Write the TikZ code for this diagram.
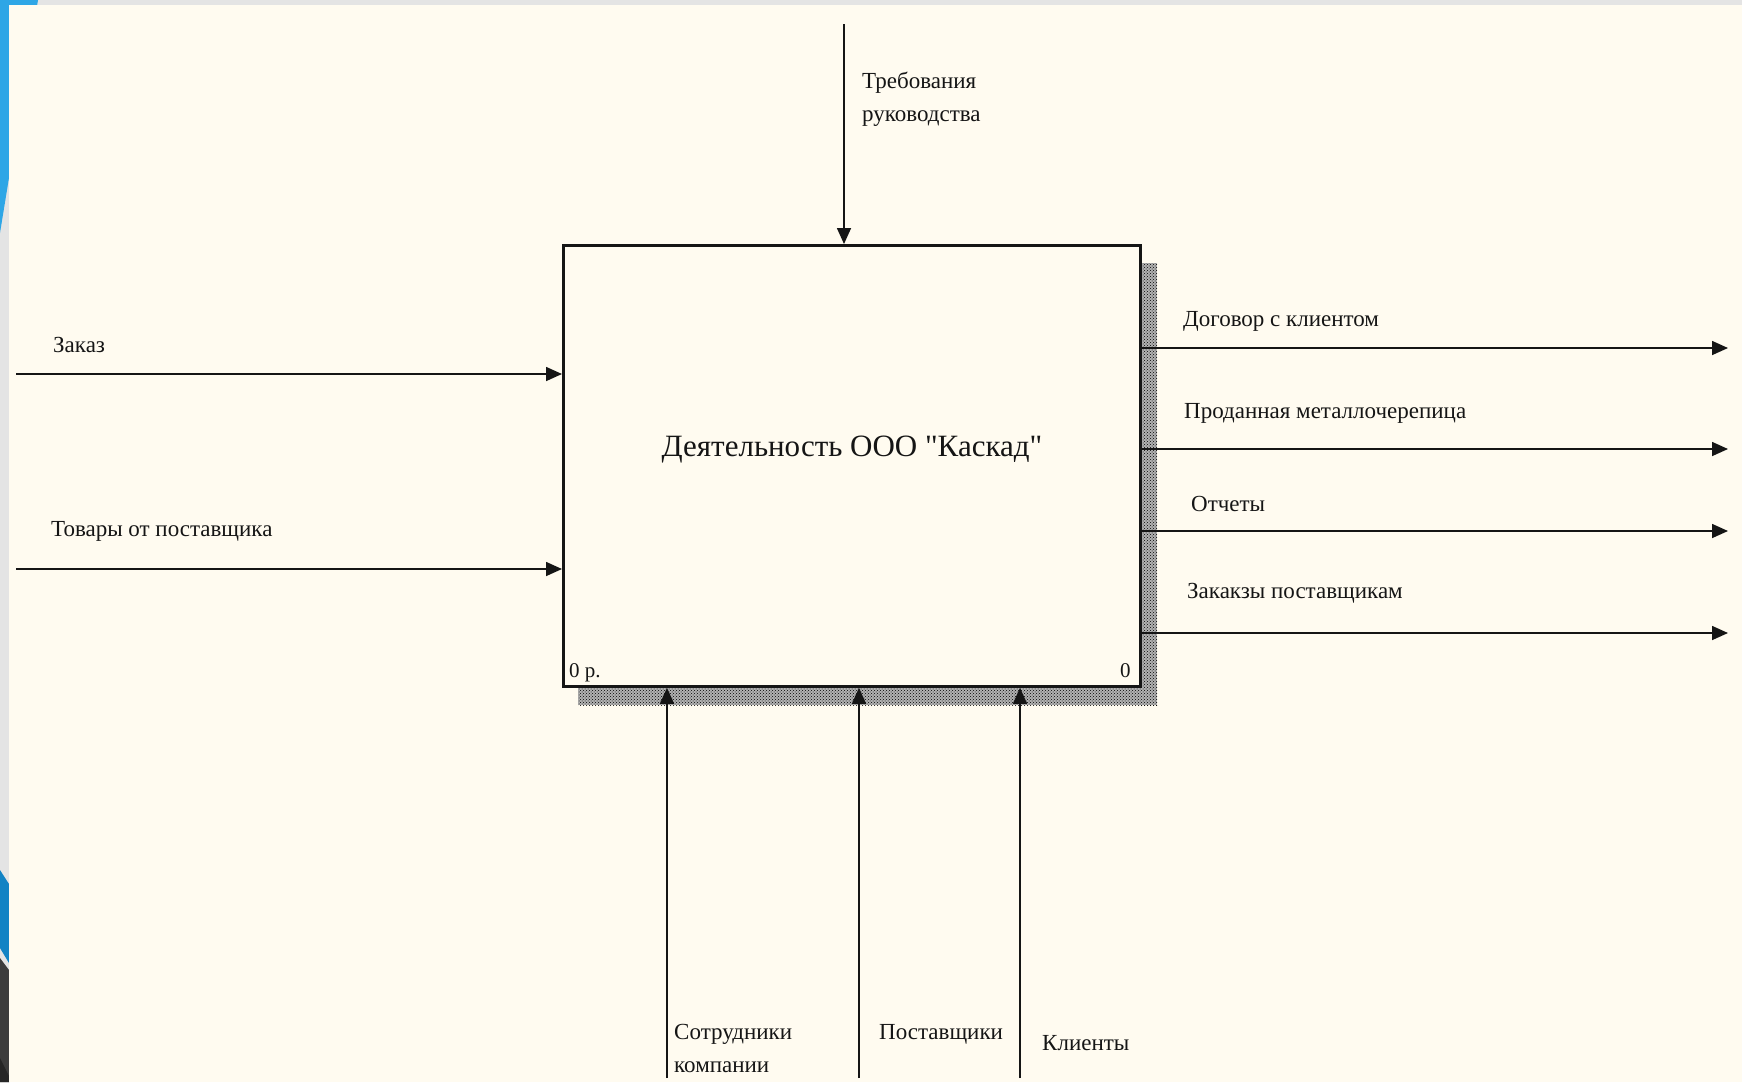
\documentclass[tikz,border=0pt]{standalone}
\usepackage{fontspec}
\setmainfont{Liberation Serif}[Ligatures=TeXOff]
\usetikzlibrary{arrows.meta,patterns}
\definecolor{paper}{HTML}{FFFBF0}
\definecolor{ink}{HTML}{151515}
\definecolor{frame}{HTML}{E4E4E4}
\definecolor{sideblue}{HTML}{2EA6E6}
\definecolor{lowblue}{HTML}{1283C4}
\definecolor{darkside}{HTML}{3C3C3C}
\begin{document}
\begin{tikzpicture}[x=1pt,y=-1pt,
  flow/.style={line width=1.6pt, draw=ink, -{Triangle[length=16pt,width=14pt]}},
  lbl/.style={font=\fontsize{23}{27}\selectfont, inner sep=0pt, anchor=base west, text=ink},
  shadowfill/.style={fill=black!30, postaction={pattern=crosshatch dots, pattern color=black}}]
\useasboundingbox (0,0) rectangle (1742,1082);
% page frame and left decoration
\fill[frame] (0,0) rectangle (1742,1082);
\fill[sideblue] (0,0) -- (38,0) -- (0,233) -- cycle;
\fill[lowblue] (0,870) -- (9,884) -- (9,963) -- (0,948) -- cycle;
\fill[darkside] (0,958) -- (9,970) -- (9,1082) -- (0,1082) -- cycle;
\fill[black!85] (0,1058) -- (9,1076) -- (9,1082) -- (0,1082) -- cycle;
\fill[paper] (9,5) rectangle (1742,1082);
% shadow
\path[shadowfill] (1139,263) rectangle (1157,705);
\path[shadowfill] (578,685) rectangle (1157,705);
% activity box
\node[draw=ink, line width=2.8pt, fill=paper, minimum width=577pt, minimum height=441pt,
      anchor=north west, inner sep=0pt] (box) at (562,244) {};
\node[font=\fontsize{31}{35}\selectfont, text=ink, inner sep=0pt] (title) at (852,450) {Деятельность ООО "Каскад"};
\node[lbl, font=\fontsize{21}{25}\selectfont] (num) at (569,677) {0 р.};
\node[lbl, font=\fontsize{21}{25}\selectfont] (nodeno) at (1120,677) {0};
% control
\coordinate (ctl) at (844,24);
\draw[flow] (ctl) -- (ctl |- box.north);
\node[lbl] (ctlA) at (862,88) {Требования};
\node[lbl] (ctlB) at (862,121) {руководства};
% inputs
\coordinate (in1) at (16,374);
\coordinate (in2) at (16,569);
\draw[flow] (in1) -- (in1 -| box.west);
\draw[flow] (in2) -- (in2 -| box.west);
\node[lbl] (in1l) at (53,352) {Заказ};
\node[lbl] (in2l) at (51,536) {Товары от поставщика};
% outputs
\coordinate (out1) at (1728,348);
\coordinate (out2) at (1728,449);
\coordinate (out3) at (1728,531);
\coordinate (out4) at (1728,633);
\draw[flow] (out1 -| box.east) -- (out1);
\draw[flow] (out2 -| box.east) -- (out2);
\draw[flow] (out3 -| box.east) -- (out3);
\draw[flow] (out4 -| box.east) -- (out4);
\node[lbl] (out1l) at (1183,326) {Договор с клиентом};
\node[lbl] (out2l) at (1184,418) {Проданная металлочерепица};
\node[lbl] (out3l) at (1191,511) {Отчеты};
\node[lbl] (out4l) at (1187,598) {Закакзы поставщикам};
% mechanisms
\coordinate (m1) at (667,1078);
\coordinate (m2) at (859,1078);
\coordinate (m3) at (1020,1078);
\draw[flow] (m1) -- (m1 |- box.south);
\draw[flow] (m2) -- (m2 |- box.south);
\draw[flow] (m3) -- (m3 |- box.south);
\node[lbl] (m1a) at (674,1039) {Сотрудники};
\node[lbl] (m1b) at (674,1072) {компании};
\node[lbl] (m2l) at (879,1039) {Поставщики};
\node[lbl] (m3l) at (1042,1050) {Клиенты};
\end{tikzpicture}
\end{document}
